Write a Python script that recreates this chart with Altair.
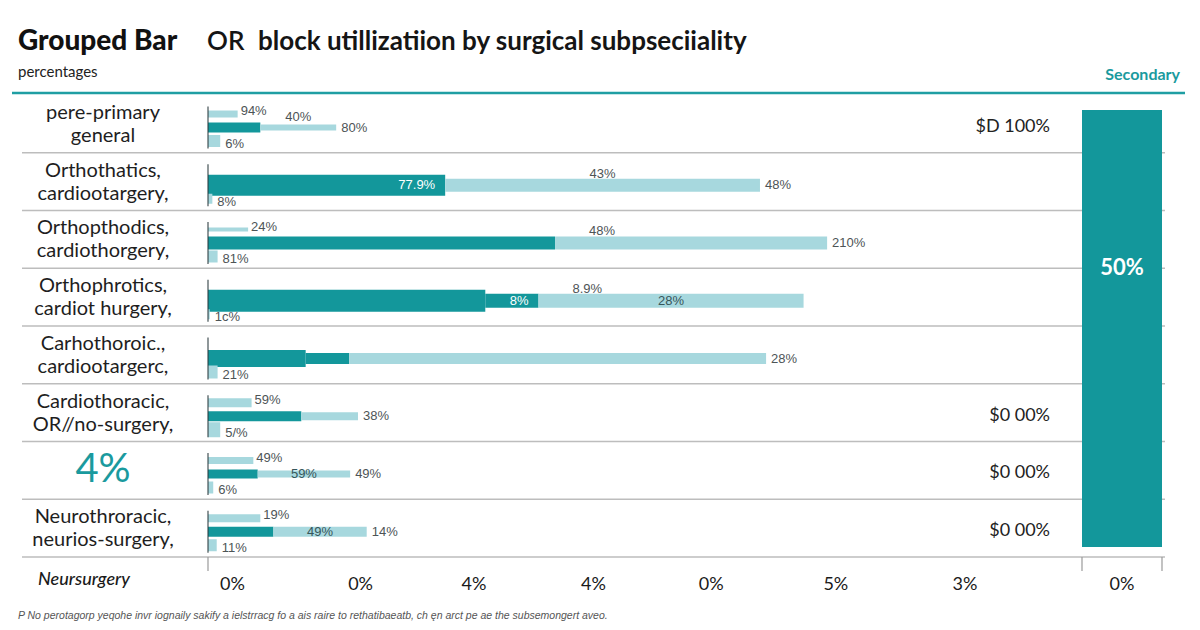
import altair as alt
import pandas as pd

# ---------------- data ----------------
ROW_KEYS = ["r1", "r2", "r3", "r4", "r5", "r6", "r7", "r8"]
ROW_LABELS = [
    "pere-primary\ngeneral",
    "Orthothatics,\ncardiootargery,",
    "Orthopthodics,\ncardiothorgery,",
    "Orthophrotics,\ncardiot hurgery,",
    "Carhothoroic.,\ncardiootargerc,",
    "Cardiothoracic,\nOR//no-surgery,",
    "4%",
    "Neurothroracic,\nneurios-surgery,",
]
TOP = [3.4, 0, 4.6, 0, 0, 5.0, 5.2, 6.0]
DARK = [6.0, 27.2, 39.8, 31.8, 11.2, 10.7, 5.7, 7.5]
DARK2 = [0, 0, 0, 6.1, 5.0, 0, 0, 0]
LIGHT = [8.7, 36.1, 31.2, 30.4, 47.8, 6.5, 10.6, 10.7]
BOTTOM = [1.4, 0.5, 1.1, 0.2, 1.1, 1.4, 0.6, 1.0]

TOP_LABELS = ["94%", "", "24%", "", "", "59%", "49%", "19%"]
END_LABELS = ["80%", "48%", "210%", "", "28%", "38%", "49%", "14%"]
IN_DARK_LABELS = ["", "77.9%", "", "8%", "", "", "", ""]
OVER_LIGHT_LABELS = ["40%", "43%", "", "", "", "", "", ""]
NEAR_LIGHT_LABELS = ["", "", "48%", "8.9%", "", "", "", ""]
IN_LIGHT_LABELS = ["", "", "", "28%", "", "", "59%", "49%"]
BOTTOM_LABELS = ["6%", "8%", "81%", "1c%", "21%", "5/%", "6%", "11%"]
RIGHT_NOTES = ["$D 100%", "", "", "", "", "$0 00%", "$0 00%", "$0 00%"]

TICK_VALUES = [2.8, 17.5, 30.5, 44.2, 57.7, 72.0, 86.8]
TICK_LABELS = ["0%", "0%", "4%", "4%", "0%", "5%", "3%"]

SECONDARY_NAME = ["Secondary"]
SECONDARY_VALUE = [50]
SECONDARY_LABEL = ["50%"]
SECONDARY_TICK = ["0%"]

# ---------------- style ----------------
DARK_C = "#13979b"
LIGHT_C = "#a7d8de"
TEAL_TEXT = "#1a9a9e"
TOP_PX = [7, 0, 4, 0, 0, 9, 7, 8]
DARK_PX = [10, 21, 13, 22, 17, 10, 9, 10]
DARK2_PX = [0, 0, 0, 14, 11, 0, 0, 0]
LIGHT_PX = [6, 13, 13, 14, 11, 8, 7, 10]
BOTTOM_PX = [12, 10, 12, 10, 13, 15, 12, 12]

W, H = 954, 462
MAIN_W = 872

# ---------------- tables ----------------
bar_rows = []
for i, r in enumerate(ROW_KEYS):
    segs = [
        ("top", 0, TOP[i], TOP_PX[i], "light"),
        ("mid", 0, DARK[i], DARK_PX[i], "dark"),
        ("mid", DARK[i], DARK[i] + DARK2[i], DARK2_PX[i], "dark"),
        ("mid", DARK[i] + DARK2[i], DARK[i] + DARK2[i] + LIGHT[i], LIGHT_PX[i], "light"),
        ("bot", 0, BOTTOM[i], BOTTOM_PX[i], "light"),
    ]
    for slot, a, b, t, tone in segs:
        if b > a:
            bar_rows.append(dict(row=r, slot=slot, x0=a, x1=b, thick=t, tone=tone))
bars_df = pd.DataFrame(bar_rows)

lab_rows = []
for i, r in enumerate(ROW_KEYS):
    d = DARK[i] + DARK2[i]
    items = [
        ("top", "top", TOP[i], TOP_LABELS[i]),
        ("end", "mid", d + LIGHT[i], END_LABELS[i]),
        ("indark", "mid", d, IN_DARK_LABELS[i]),
        ("over", "mid", d + LIGHT[i] / 2, OVER_LIGHT_LABELS[i]),
        ("near", "mid", d, NEAR_LIGHT_LABELS[i]),
        ("inlight", "mid", d + LIGHT[i] / 2, IN_LIGHT_LABELS[i]),
        ("bot", "bot", BOTTOM[i], BOTTOM_LABELS[i]),
    ]
    for kind, slot, x, t in items:
        if t:
            lab_rows.append(dict(row=r, slot=slot, x=x, text=t, kind=kind))
labels_df = pd.DataFrame(lab_rows)

rows_df = pd.DataFrame({"row": ROW_KEYS, "label": ROW_LABELS, "note": RIGHT_NOTES,
                        "slot": ["mid"] * 8, "z": [0] * 8})
ticks_df = pd.DataFrame({"v": TICK_VALUES, "t": TICK_LABELS})
sec_df = pd.DataFrame({"name": SECONDARY_NAME, "v": SECONDARY_VALUE,
                       "lab": SECONDARY_LABEL, "tick": SECONDARY_TICK})

# ---------------- scales ----------------
xscale = alt.Scale(domain=[0, 100], range=[0, MAIN_W], nice=False, zero=True)
yscale = alt.Scale(domain=ROW_KEYS, paddingInner=0, paddingOuter=0)
offscale = alt.Scale(domain=["top", "mid", "bot"], paddingInner=0, paddingOuter=0.64, align=0.71)

Y = alt.Y("row:N", scale=yscale, axis=None)
YO = alt.YOffset("slot:N", scale=offscale)

bars = alt.Chart(bars_df).mark_bar().encode(
    y=Y, yOffset=YO,
    x=alt.X("x0:Q", scale=xscale, axis=None), x2="x1:Q",
    size=alt.Size("thick:Q", scale=None, legend=None),
    color=alt.Color("tone:N", scale=alt.Scale(domain=["light", "dark"], range=[LIGHT_C, DARK_C]), legend=None),
)

separators = alt.Chart(rows_df).mark_rule(color="#bdbdbd", strokeWidth=1.6).encode(
    y=alt.Y("row:N", scale=yscale, axis=None, bandPosition=1),
    x=alt.value(-186), x2=alt.value(957),
)

baseline = alt.Chart(rows_df).mark_tick(orient="vertical", size=42, thickness=1.5, color="#2b3a3d").encode(
    x=alt.X("z:Q", scale=xscale, axis=None), y=Y, yOffset=YO,
)

LABEL_FONT = "Liberation Sans"
LABEL_COLOR = "#4d5456"


def lab_layer(kind, align, dx, dy=0, color=LABEL_COLOR, size=13):
    return alt.Chart(labels_df).transform_filter(alt.datum.kind == kind).mark_text(
        align=align, baseline="middle", dx=dx, dy=dy, font=LABEL_FONT, fontSize=size, color=color
    ).encode(x=alt.X("x:Q", scale=xscale, axis=None), y=Y, yOffset=YO, text="text:N")


lab_top = lab_layer("top", "left", 3, -3)
lab_end = lab_layer("end", "left", 5, 0)
lab_indark = lab_layer("indark", "right", -10, 0, "white")
lab_over = lab_layer("over", "center", 0, -11)
lab_near = lab_layer("near", "left", 34, -12)
lab_inlight = lab_layer("inlight", "center", 0, 0, "#36565a")
lab_bot = lab_layer("bot", "left", 5, 3)

row_text = alt.Chart(rows_df).transform_filter(alt.datum.row != "r7").mark_text(
    align="center", baseline="middle", lineBreak="\n", lineHeight=23, dy=-11,
    font="Lato", fontSize=20, color="#1e1e1e"
).encode(x=alt.value(-105), y=Y, text="label:N")

row_text_big = alt.Chart(rows_df).transform_filter(alt.datum.row == "r7").mark_text(
    align="center", baseline="middle", font="Lato", fontSize=40, color=TEAL_TEXT
).encode(x=alt.value(-105), y=Y, text="label:N")

notes = alt.Chart(rows_df).transform_filter(alt.datum.note != "").mark_text(
    align="right", baseline="middle", font="Lato", fontSize=18, color="#222222", dy=3
).encode(x=alt.value(842), y=Y, text="note:N")

tick_text = alt.Chart(ticks_df).mark_text(
    align="center", baseline="middle", font="Lato", fontSize=18, color="#1a1a1a"
).encode(x=alt.X("v:Q", scale=xscale, axis=None), y=alt.value(490), text="t:N")


def ann(text, x, y, **kw):
    return alt.Chart(pd.DataFrame({"t": [text]})).mark_text(baseline="middle", **kw).encode(
        x=alt.value(x), y=alt.value(y), text="t:N")


title1 = ann("Grouped Bar", -190, -53, align="left", font="Lato", fontSize=28, fontWeight=900, color="#111111")
title2 = ann("OR", -1, -53, align="left", font="Lato", fontSize=26, fontWeight=600, color="#151515")
title3 = ann("block utillizatiion by surgical subpseciiality", 50, -53, align="left",
             font="Lato", fontSize=26, fontWeight=700, color="#151515")
subtitle = ann("percentages", -190, -23, align="left", font="Lato", fontSize=15, color="#222222")
secondary_head = ann("Secondary", 972, -20, align="right", font="Lato", fontSize=16, fontWeight=700, color=TEAL_TEXT)
neuro = ann("Neursurgery", -170, 485, align="left", font="Lato", fontSize=18, fontStyle="italic",
            fontWeight=500, color="#1a1a1a")
foot = ann("P No perotagorp yeqohe invr iognaily sakify a ielstrracg fo a ais raire to rethatibaeatb, "
           "ch ęn arct pe ae the subsemongert aveo.", -190, 521, align="left",
           font="Liberation Sans", fontSize=10.5, fontStyle="italic", color="#555555")

top_line = alt.Chart(pd.DataFrame({"a": [0]})).mark_rule(color="#1f9ea3", strokeWidth=2.5).encode(
    x=alt.value(-196), x2=alt.value(977), y=alt.value(-2))

axis_ticks = alt.Chart(pd.DataFrame({"p": [0, 874, 954], "l": [8, 18, 18]})).mark_rule(
    color="#9a9a9a", strokeWidth=1.2).encode(
    x=alt.X("p:Q", scale=alt.Scale(domain=[0, W], range=[0, W]), axis=None),
    y=alt.value(H), y2=alt.value(H + 14))

main = alt.layer(
    separators, bars, baseline,
    lab_top, lab_end, lab_indark, lab_over, lab_near, lab_inlight, lab_bot,
    row_text, row_text_big, notes, tick_text,
    title1, title2, title3, subtitle, secondary_head, neuro, foot, top_line,
)

sec_x = alt.X("name:N", scale=alt.Scale(range=[874, 954], paddingInner=0, paddingOuter=0), axis=None)
sec_bar = alt.Chart(sec_df).mark_bar(color=DARK_C).encode(
    x=sec_x,
    y=alt.Y("v:Q", scale=alt.Scale(domain=[0, 50], range=[452, 15], nice=False), axis=None),
)
sec_lab = alt.Chart(sec_df).mark_text(font="Lato", fontSize=22, fontWeight=700, color="white",
                                      baseline="middle").encode(
    x=sec_x, y=alt.value(173), text="lab:N")
sec_tick = alt.Chart(sec_df).mark_text(font="Lato", fontSize=18, color="#1a1a1a", baseline="middle").encode(
    x=sec_x, y=alt.value(490), text="tick:N")
secondary = alt.layer(sec_bar, sec_lab, sec_tick)

chart = alt.layer(main, secondary, axis_ticks).resolve_scale(
    x="independent", y="independent", size="independent", color="independent"
).properties(
    width=W, height=H,
    padding={"left": 208, "top": 95, "right": 38, "bottom": 73},
    autosize=alt.AutoSizeParams(type="none"),
    background="white",
).configure_view(stroke=None)

chart.save("out.html", embed_options={"renderer": "svg", "actions": False})
